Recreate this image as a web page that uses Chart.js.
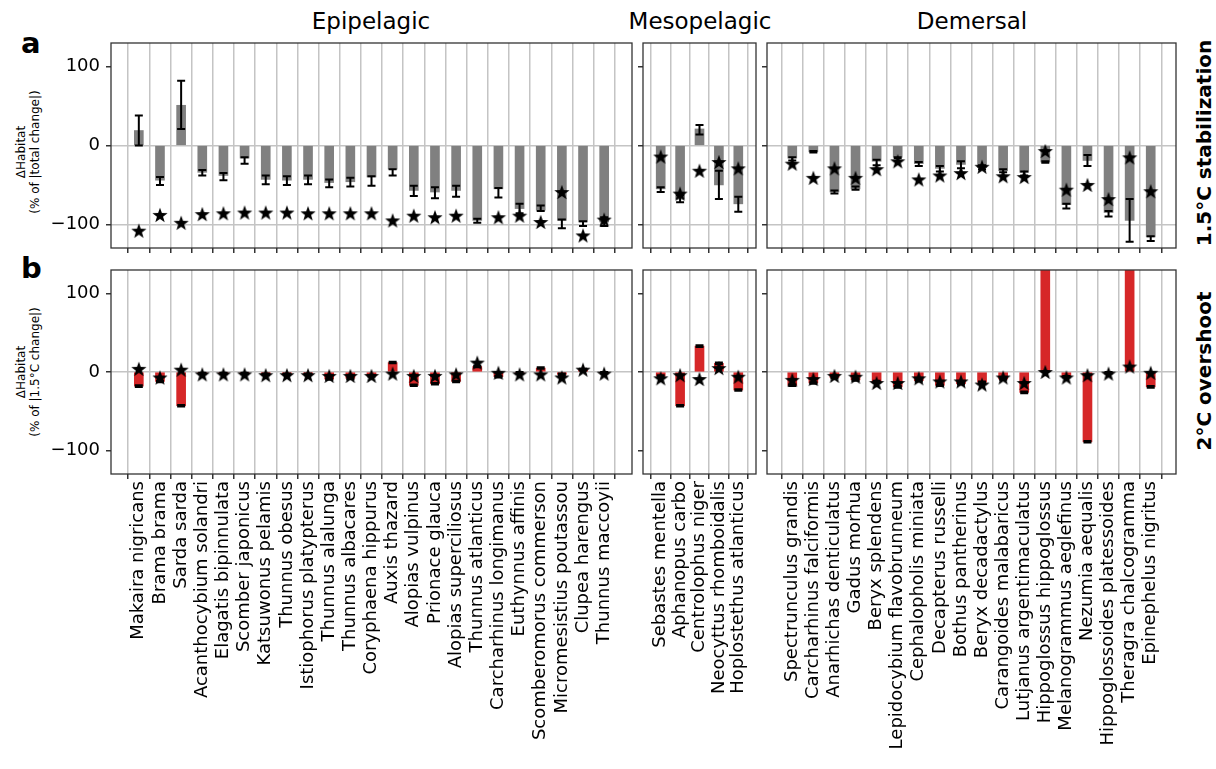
<!DOCTYPE html>
<html><head><meta charset="utf-8">
<script src="https://cdn.jsdelivr.net/npm/chart.js@4"></script>
<style>
body{margin:0;width:1216px;height:769px;background:#fff;position:relative;overflow:hidden;font-family:"DejaVu Sans",sans-serif}
canvas{position:absolute}
.t{position:absolute;white-space:nowrap;color:#000;line-height:1}
.c{transform:translateX(-50%)}
.r{transform:translate(-50%,-50%) rotate(-90deg);text-align:center}
</style></head><body>
<div class="t c" style="left:371px;top:10px;font-size:23px">Epipelagic</div>
<div class="t c" style="left:700px;top:10px;font-size:23px">Mesopelagic</div>
<div class="t c" style="left:972px;top:10px;font-size:23px">Demersal</div>
<div class="t" style="left:21px;top:29px;font-size:29px;font-weight:bold">a</div>
<div class="t" style="left:21px;top:254px;font-size:29px;font-weight:bold">b</div>
<div class="t r" style="left:28px;top:152px;font-size:12px;line-height:14px">ΔHabitat<br>(% of |total change|)</div>
<div class="t r" style="left:28px;top:372px;font-size:12px;line-height:14px">ΔHabitat<br>(% of |1.5°C change|)</div>
<div class="t r" style="left:1204px;top:143px;font-size:20px;font-weight:bold">1.5°C stabilization</div>
<div class="t r" style="left:1204px;top:371px;font-size:20px;font-weight:bold">2°C overshoot</div>
<script>
// ---------------- data ----------------
const yTicks = [-100, 0, 100];

const epiNames = ["Makaira nigricans","Brama brama","Sarda sarda","Acanthocybium solandri","Elagatis bipinnulata","Scomber japonicus","Katsuwonus pelamis","Thunnus obesus","Istiophorus platypterus","Thunnus alalunga","Thunnus albacares","Coryphaena hippurus","Auxis thazard","Alopias vulpinus","Prionace glauca","Alopias superciliosus","Thunnus atlanticus","Carcharhinus longimanus","Euthynnus affinis","Scomberomorus commerson","Micromesistius poutassou","Clupea harengus","Thunnus maccoyii"];
const epiStab     = [19, -44, 51, -34, -38, -16, -43, -44, -43, -47, -46, -40, -30, -57, -59, -57, -95, -55, -80, -82, -95, -97, -97];
const epiStabLo   = [0, -50, 21, -38, -44, -23, -49, -50, -49, -53, -52, -51, -38, -64, -67, -65, -98, -66, -86, -83, -105, -102, -102];
const epiStabHi   = [38, -40, 82, -31, -35, -15, -38, -39, -38, -43, -41, -39, -30, -51, -53, -51, -93, -54, -74, -76, -94, -96, -91];
const epiStabStar = [-108, -88, -98, -87, -86, -85, -85, -85, -86, -86, -86, -86, -95, -89, -91, -89, null, -91, -89, -97, -59, -114, -94];
const epiOver     = [-18, -12, -43, -2, -2, -2, -3, -3, -3, -9, -8, -5, 12, -17, -15, -12, 7, -6, -1, 5, -3, 3, -1];
const epiOverLo   = [-19, -13, -44, -3, -3, -3, -4, -4, -4, -10, -9, -6, 11, -18, -16, -13, 6, -7, -2, 4, -4, 2, -2];
const epiOverHi   = [-17, -11, -42, -1, -1, -1, -2, -2, -2, -8, -7, -4, 13, -16, -14, -11, 8, -5, 0, 6, -2, 4, 0];
const epiOverStar = [4, -7, 3, -3, -3, -3, -4, -4, -4, -5, -5, -5, -2, -5, -5, -3, 12, -1, -3, -3, -7, 3, -2];

const mesoNames = ["Sebastes mentella","Aphanopus carbo","Centrolophus niger","Neocyttus rhomboidalis","Hoplostethus atlanticus"];
const mesoStab     = [-55, -68, 21, -50, -74];
const mesoStabLo   = [-59, -72, 14, -68, -84];
const mesoStabHi   = [-53, -63, 26, -32, -65];
const mesoStabStar = [-14, -61, -32, -21, -29];
const mesoOver     = [-5, -43, 33, 11, -23];
const mesoOverLo   = [-6, -44, 32, 10, -24];
const mesoOverHi   = [-4, -42, 34, 12, -22];
const mesoOverStar = [-8, -4, -9, 5, -6];

const demNames = ["Spectrunculus grandis","Carcharhinus falciformis","Anarhichas denticulatus","Gadus morhua","Beryx splendens","Lepidocybium flavobrunneum","Cephalopholis miniata","Decapterus russelli","Bothus pantherinus","Beryx decadactylus","Carangoides malabaricus","Lutjanus argentimaculatus","Hippoglossus hippoglossus","Melanogrammus aeglefinus","Nezumia aequalis","Hippoglossoides platessoides","Theragra chalcogramma","Epinephelus nigritus"];
const demStab     = [-16, -8, -59, -55, -20, -15, -23, -29, -24, -28, -32, -34, -21, -75, -19, -85, -95, -116];
const demStabLo   = [-19, -9, -61, -56, -25, -16, -26, -33, -29, -30, -34, -38, -22, -80, -26, -90, -122, -121];
const demStabHi   = [-15, -7, -57, -52, -18, -15, -21, -26, -20, -25, -30, -33, -20, -74, -12, -83, -68, -115];
const demStabStar = [-23, -41, -29, -41, -30, -20, -43, -38, -35, -27, -39, -40, -7, -56, -50, -68, -15, -58];
const demOver     = [-17, -14, -7, -10, -12, -19, -11, -17, -15, -13, -9, -26, 300, -6, -89, -1, 300, -19];
const demOverLo   = [-18, -15, -8, -11, -13, -20, -12, -18, -16, -14, -10, -27, 299, -7, -90, -2, 299, -20];
const demOverHi   = [-16, -13, -6, -9, -11, -18, -10, -16, -14, -12, -8, -25, 301, -5, -88, 0, 301, -18];
const demOverStar = [-10, -9, -5, -6, -14, -14, -8, -12, -12, -16, -7, -14, 0, -7, -4, -2, 7, -1];

// ---------------- drawing ----------------
const FONT = "DejaVu Sans";
const starImg = (() => {
  const c = document.createElement('canvas'); c.width = 18; c.height = 18;
  const g = c.getContext('2d'); g.fillStyle = '#000'; g.beginPath();
  for (let i = 0; i < 10; i++) {
    const r = i % 2 ? 3.2 : 8.0, a = -Math.PI / 2 + i * Math.PI / 5;
    g.lineTo(9 + r * Math.cos(a), 9.7 + r * Math.sin(a));
  }
  g.closePath(); g.fill(); return c;
})();

const boxPlugin = {
  id: 'box',
  afterDraw(chart) {
    const a = chart.chartArea, g = chart.ctx;
    g.save(); g.strokeStyle = '#333'; g.lineWidth = 1.3;
    g.strokeRect(a.left, a.top, a.right - a.left, a.bottom - a.top); g.restore();
  }
};
const errPlugin = {
  id: 'errbars',
  beforeDatasetDraw(chart, args, opts) {
    if (args.index !== 1) return;
    const a = chart.chartArea, g = chart.ctx, xs = chart.scales.x, ys = chart.scales.y;
    g.save(); g.beginPath(); g.rect(a.left, a.top, a.right - a.left, a.bottom - a.top); g.clip();
    g.strokeStyle = '#000'; g.lineWidth = 2;
    opts.lo.forEach((lo, i) => {
      const hi = opts.hi[i]; if (lo == null || hi == null) return;
      const x = xs.getPixelForValue(i), y1 = ys.getPixelForValue(lo), y2 = ys.getPixelForValue(hi);
      g.beginPath(); g.moveTo(x, y1); g.lineTo(x, y2);
      g.moveTo(x - 4, y1); g.lineTo(x + 4, y1);
      g.moveTo(x - 4, y2); g.lineTo(x + 4, y2); g.stroke();
    });
    g.restore();
  }
};

const cols = [
  {left: 111, right: 633, min: -0.78, max: 22.78},
  {left: 643, right: 757, min: -0.33, max: 4.33},
  {left: 767, right: 1177, min: -0.66, max: 17.66}
];
const rows = [{top: 42, bottom: 248, lines: [0, -100]}, {top: 269, bottom: 474, lines: [0]}];
const fmt = v => v < 0 ? '\u2212' + Math.abs(v) : String(v);

function panel(ci, ri, names, vals, lo, hi, stars, color) {
  const col = cols[ci], row = rows[ri];
  const cl = ci === 0 ? 0 : col.left - 10, ct = row.top - 4;
  const cw = col.right + 4 - cl;
  const ch = ri === 0 ? row.bottom + 8 - ct : 769 - ct;
  const xh = ch - (row.bottom - ct);
  const yw = col.left - cl;
  const cv = document.createElement('canvas');
  cv.width = cw; cv.height = ch;
  cv.style.left = cl + 'px'; cv.style.top = ct + 'px';
  cv.style.width = cw + 'px'; cv.style.height = ch + 'px';
  document.body.appendChild(cv);
  const zeroPad = s => { s.paddingLeft = 0; s.paddingRight = 0; s.paddingTop = 0; s.paddingBottom = 0; };
  new Chart(cv, {
    type: 'bar',
    data: {datasets: [
      {type: 'bar', data: vals.map((v, i) => ({x: i, y: v})), backgroundColor: color, barThickness: 9, order: 2},
      {type: 'scatter', data: stars.map((v, i) => ({x: i, y: v})), pointStyle: starImg, order: 1}
    ]},
    options: {
      responsive: false, animation: false, events: [],
      devicePixelRatio: 1,
      layout: {padding: {top: 4, right: 4, left: 0, bottom: 0}},
      plugins: {legend: {display: false}, tooltip: {enabled: false}, errbars: {lo, hi}},
      scales: {
        x: {
          type: 'linear', min: col.min, max: col.max,
          afterBuildTicks: s => { s.ticks = names.map((_, i) => ({value: i})); },
          afterFit: s => { s.height = xh; zeroPad(s); },
          ticks: {autoSkip: false, minRotation: 90, maxRotation: 90, padding: 2, color: '#000',
                  font: {family: FONT, size: 18},
                  callback: v => ri === 1 ? names[v] : ''},
          grid: {color: '#c4c4c4', lineWidth: 1.5, tickColor: '#333', tickLength: 5, drawTicks: true},
          border: {display: false}
        },
        y: {
          min: -130, max: 130,
          afterBuildTicks: s => { s.ticks = yTicks.map(v => ({value: v})); },
          afterFit: s => { s.width = yw; zeroPad(s); },
          ticks: {padding: 6, color: '#000', font: {family: FONT, size: 18},
                  callback: v => ci === 0 ? fmt(v) : ''},
          grid: {color: c => row.lines.includes(c.tick && c.tick.value) ? '#c4c4c4' : 'rgba(0,0,0,0)',
                 lineWidth: 1.5, tickColor: '#333', tickLength: 5, drawTicks: true},
          border: {display: false}
        }
      }
    },
    plugins: [boxPlugin, errPlugin]
  });
}

const GRAY = '#808080', RED = '#d62728';
panel(0, 0, epiNames, epiStab, epiStabLo, epiStabHi, epiStabStar, GRAY);
panel(1, 0, mesoNames, mesoStab, mesoStabLo, mesoStabHi, mesoStabStar, GRAY);
panel(2, 0, demNames, demStab, demStabLo, demStabHi, demStabStar, GRAY);
panel(0, 1, epiNames, epiOver, epiOverLo, epiOverHi, epiOverStar, RED);
panel(1, 1, mesoNames, mesoOver, mesoOverLo, mesoOverHi, mesoOverStar, RED);
panel(2, 1, demNames, demOver, demOverLo, demOverHi, demOverStar, RED);
</script>
</body></html>
